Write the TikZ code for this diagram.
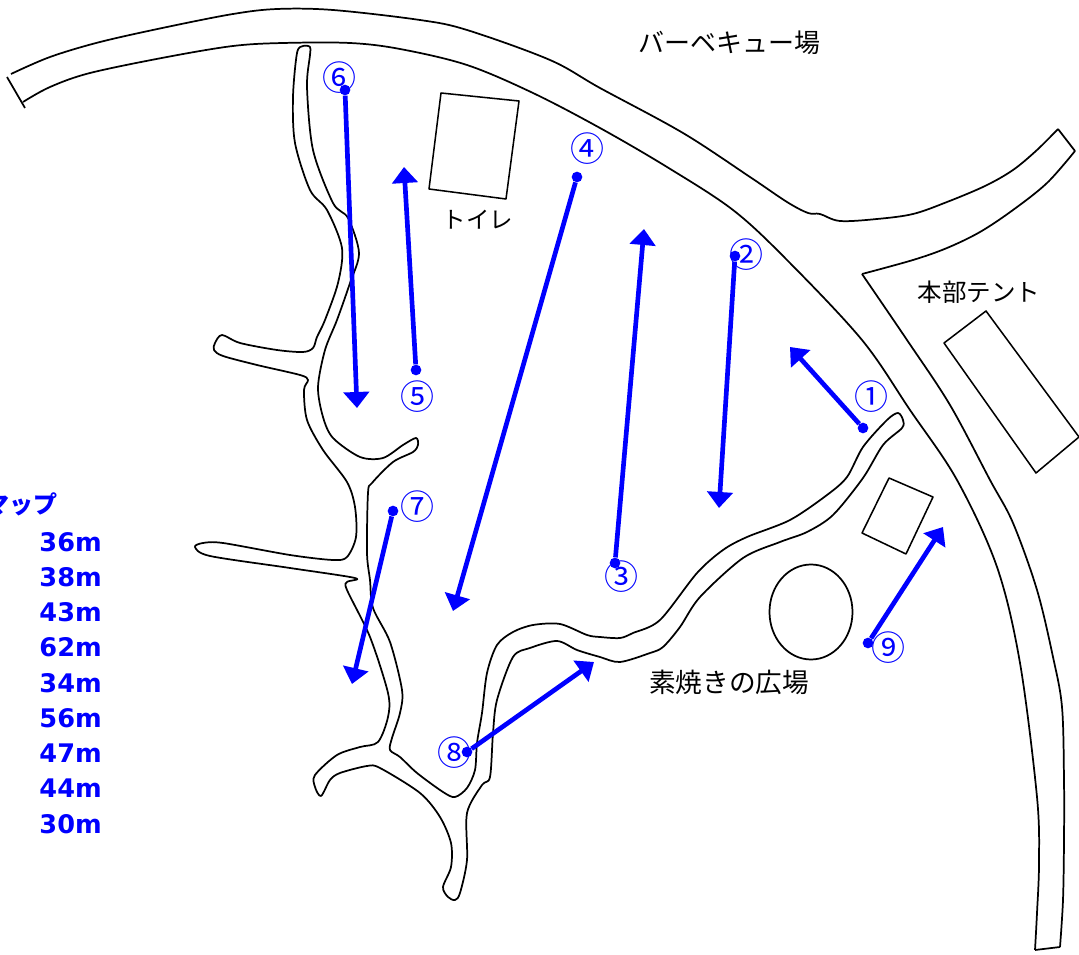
\documentclass[tikz,border=0pt]{standalone}
\usepackage{fontspec}
\setmainfont{Noto Sans CJK JP}
\newfontfamily\numfont{DejaVu Sans}[BoldFont={DejaVu Sans Bold}]
\usetikzlibrary{arrows.meta}
\tikzset{
  outline/.style={draw=black,line width=1.3pt,line join=round},
  thinline/.style={draw=black,line width=1.15pt,line join=round},
  flow/.style={draw=blue,line width=3.5pt,-{Triangle[width=19pt,length=12pt]}},
  dot/.style={circle,fill=blue,inner sep=0pt,minimum size=8pt},
  num/.style={text=blue,font=\fontsize{25.5}{26}\selectfont,inner sep=0pt},
  place/.style={text=black,inner sep=0pt},
  dist/.style={text=blue,font=\numfont\bfseries\fontsize{19.2}{20}\selectfont,inner sep=0pt,anchor=base east},
  smoothline/.style={smooth,tension=0.55}
}
\begin{document}
\begin{tikzpicture}[x=0.75pt,y=-0.75pt]
\useasboundingbox (0,0) rectangle (1079,955);
\clip (0,0) rectangle (1079,955);
% main road, upper edge
\draw[outline] plot[smoothline] coordinates {(11,74) (50,57) (100,42) (167,27) (233,14) (277,9) (333,10) (420,20) (467,30) (550,60) (600,88) (683,133) (750,177) (787,202) (808,213) (820,214) (840,221) (877,219) (913,214) (947,202) (985,186) (1013,170) (1037,150) (1058,129)};
\draw[outline] (7,77) -- (25,108);
% main road, lower edge
\draw[outline] plot[smoothline] coordinates {(23,102) (50,87) (90,73) (167,57) (233,46) (283,43) (350,43) (400,49) (467,65) (533,93) (600,128) (667,167) (733,210) (787,260) (862,340) (910,410) (957,480) (997,567) (1020,663) (1037,797) (1039,863) (1037,913) (1035,950)};
\draw[outline] (1058,129) -- (1075,151);
\draw[outline] plot[smoothline] coordinates {(1075,151) (1047,183) (1013,210) (980,232) (947,248) (913,260) (862,274)};
\draw[outline] plot[smoothline] coordinates {(862,274) (907,340) (950,405) (990,480) (1013,523) (1037,590) (1053,657) (1062,707) (1064,780) (1064,840) (1063,900) (1060,947)};
\draw[outline] (1060,947) -- (1035,950);
% stream
\draw[outline] plot[smooth cycle,tension=0.5] coordinates {
(310,47) (303,46) (297,53) (293,97) (295,143) (310,190) (327,210) (342,248) (338,283) (325,320) (317,337) (313,348) (303,352) (277,350) (240,343) (222,335) (215,343) (214,350) (223,356) (257,365) (300,375) (308,380) (304,390) (307,420) (323,450) (347,482) (355,507) (356,537) (347,557) (333,560) (290,555) (223,543) (203,543) (195,547) (210,556) (290,568) (355,578) (347,582) (347,590) (370,637) (388,693) (388,717) (378,742) (360,747) (337,755) (315,775) (315,787) (321,796) (330,780) (340,773) (367,766) (380,768) (420,793) (440,817) (451,843) (451,867) (443,887) (448,897) (455,900) (460,893) (467,860) (467,813) (482,785) (490,777) (493,733) (497,700) (513,657) (530,648) (557,641) (577,650) (600,657) (620,662) (650,653) (663,647) (680,627) (700,597) (743,558) (780,542) (807,532) (833,515) (863,478) (883,445) (902,428) (903,420) (898,413) (887,420) (863,447) (847,477) (827,495) (790,520) (747,537) (723,550) (697,573) (660,620) (633,633) (620,638) (600,637) (587,635) (560,624) (533,625) (513,632) (497,645) (487,673) (482,713) (477,743) (475,770) (467,788) (455,797) (443,792) (417,773) (400,757) (390,750) (392,738) (400,713) (402,690) (390,642) (373,608) (370,580) (367,553) (368,493) (372,483) (393,462) (413,452) (418,445) (416,438) (403,445) (383,458) (360,457) (333,438) (323,417) (318,387) (325,350) (337,320) (350,283) (359,253) (348,218) (333,203) (313,150) (307,87) (310,55)};
% buildings
\draw[thinline] (441,93) -- (519,101) -- (506,199) -- (429,189) -- cycle;
\draw[thinline] (986,311) -- (1079,437) -- (1036,473) -- (944,343) -- cycle;
\draw[thinline] (889,478) -- (933,497) -- (906,554) -- (862,533) -- cycle;
\draw[outline] (811,612) ellipse [x radius=41.5,y radius=47.5];
% place labels
\node[place,font=\fontsize{19.5}{20}\selectfont] (bbq) at (729,43) {バーベキュー場};
\node[place,font=\fontsize{17.6}{18}\selectfont] (wc) at (478,220) {トイレ};
\node[place,font=\fontsize{18.4}{19}\selectfont] (hq) at (979,292) {本部テント};
\node[place,font=\fontsize{20}{21}\selectfont] (plaza) at (729,682) {素焼きの広場};
% route map title and distances
\node[text=blue,font=\bfseries\fontsize{18}{19}\selectfont,inner sep=0pt,anchor=east] (title) at (58,504) {マップ};
\node[dist] (d1) at (102,552) {36m};
\node[dist] (d2) at (102,587) {38m};
\node[dist] (d3) at (102,622) {43m};
\node[dist] (d4) at (102,657) {62m};
\node[dist] (d5) at (102,692) {34m};
\node[dist] (d6) at (102,727) {56m};
\node[dist] (d7) at (102,762) {47m};
\node[dist] (d8) at (102,797) {44m};
\node[dist] (d9) at (102,833) {30m};
% numbers
\node[num] (n1) at (871,397) {①};
\node[num] (n2) at (746,255) {②};
\node[num] (n3) at (621,577) {③};
\node[num] (n4) at (587,149) {④};
\node[num] (n5) at (417,397) {⑤};
\node[num] (n6) at (339,78) {⑥};
\node[num] (n7) at (417,507) {⑦};
\node[num] (n8) at (454,753) {⑧};
\node[num] (n9) at (888,648) {⑨};
% route arrows
\node[dot] (s1) at (863,428) {}; \coordinate (e1) at (790,347);
\node[dot] (s2) at (735,256) {}; \coordinate (e2) at (719,508);
\node[dot] (s3) at (615,563) {}; \coordinate (e3) at (644,229);
\node[dot] (s4) at (577,177) {}; \coordinate (e4) at (453,611);
\node[dot] (s5) at (416,370) {}; \coordinate (e5) at (404,167);
\node[dot] (s6) at (345,90) {}; \coordinate (e6) at (357,408);
\node[dot] (s7) at (393,511) {}; \coordinate (e7) at (352,684);
\node[dot] (s8) at (467,752) {}; \coordinate (e8) at (594,662);
\node[dot] (s9) at (868,643) {}; \coordinate (e9) at (943,527);
\foreach \i in {1,...,9} {\draw[flow] (s\i) -- (e\i);}
\end{tikzpicture}
\end{document}
